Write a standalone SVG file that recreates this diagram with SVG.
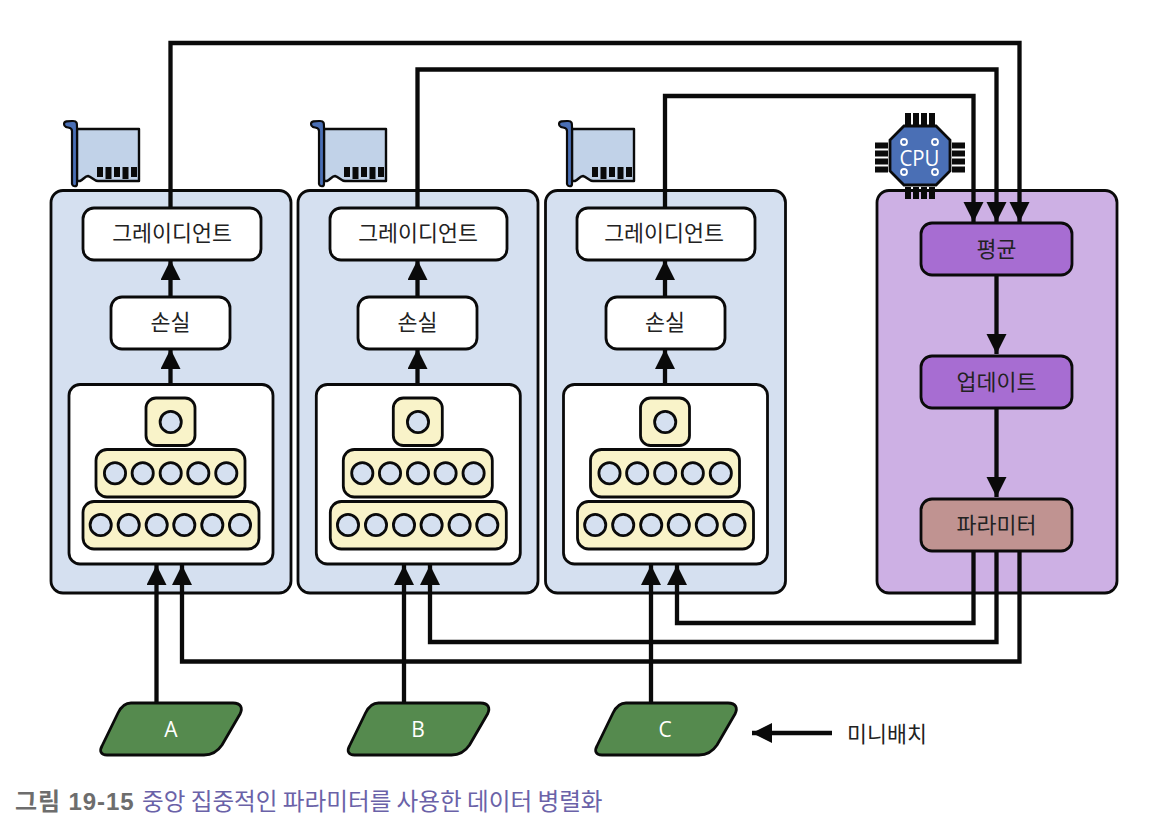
<svg xmlns="http://www.w3.org/2000/svg" width="1160" height="840" viewBox="0 0 1160 840">
<style>
text{font-family:"Noto Sans CJK KR","Noto Sans",sans-serif;text-anchor:middle;fill:#222}
.lbl{font-size:21.700px}
.on{fill:#fff;font-family:"Open Sans",sans-serif;font-weight:500}
.panel{fill:#d5e0f0;stroke:#0a0a0a;stroke-width:2.800}
.box{fill:#fff;stroke:#0a0a0a;stroke-width:2.800}
.layer{fill:#f9f3c9;stroke:#0a0a0a;stroke-width:2.800}
.n{fill:#d5e0f0;stroke:#0a0a0a;stroke-width:2.800}
.pur{fill:#a76dd2;stroke:#0a0a0a;stroke-width:2.800}
.data{fill:#558a4e;stroke:#0a0a0a;stroke-width:2.800;stroke-linejoin:round}
.wire{fill:none;stroke:#0a0a0a;stroke-width:4.300;stroke-linejoin:miter}
</style>
<defs>
<marker id="arr" markerUnits="userSpaceOnUse" markerWidth="22" markerHeight="22" refX="20" refY="10" orient="auto"><path d="M0 0L20 10L0 20Z" fill="#0a0a0a"/></marker>
<path id="para" class="data" d="M131 703H233C241 703 243 708 240 714L222 745C218 751 213 755 204 755H107C101 755 99 751 102 746L118 713C121 707 125 703 131 703Z"/>
<g id="gpu">
<path d="M77 129H139V181H98C94 181 92 177 88 176C85 176 83 180 80 181H77Z" fill="#c1d2e8" stroke="#0a0a0a" stroke-width="2.400" stroke-linejoin="round"/>
<path d="M64 124C64 121 68 121 72 121H73C77 121 77 123 77 127V184C77 187 73 187 72 184V131C72 127 68 128 66 127C64 126 64 125 64 124Z" fill="#4a6fb5" stroke="#0a0a0a" stroke-width="2.200"/>
<g fill="#0a0a0a"><rect x="97" y="167" width="6" height="10"/><rect x="105.500" y="167" width="6" height="12"/><rect x="114" y="167" width="6" height="10"/><rect x="122.500" y="167" width="6" height="12"/><rect x="131" y="167" width="6" height="10"/></g>
</g>
<g id="net">
<rect class="box" x="69" y="384.500" width="204" height="179.500" rx="11"/>
<rect class="layer" x="146" y="398" width="49" height="47.500" rx="10"/>
<rect class="layer" x="96" y="449.500" width="149" height="47.500" rx="11"/>
<rect class="layer" x="83" y="501.500" width="176" height="47.500" rx="11"/>
<circle class="n" cx="170.700" cy="422" r="10.600"/>
<circle class="n" cx="115" cy="473.300" r="10.600"/><circle class="n" cx="142.700" cy="473.300" r="10.600"/><circle class="n" cx="170.700" cy="473.300" r="10.600"/><circle class="n" cx="198.300" cy="473.300" r="10.600"/><circle class="n" cx="226.300" cy="473.300" r="10.600"/>
<circle class="n" cx="100.700" cy="525" r="10.600"/><circle class="n" cx="128.700" cy="525" r="10.600"/><circle class="n" cx="156.700" cy="525" r="10.600"/><circle class="n" cx="184.300" cy="525" r="10.600"/><circle class="n" cx="212.300" cy="525" r="10.600"/><circle class="n" cx="240" cy="525" r="10.600"/>
</g>
</defs>
<g id="panels">
<rect id="panel-a" class="panel" x="51" y="190.500" width="240" height="402.500" rx="12"/>
<rect id="panel-b" class="panel" x="298" y="190.500" width="240" height="402.500" rx="12"/>
<rect id="panel-c" class="panel" x="545.500" y="190.500" width="240" height="402.500" rx="12"/>
<rect id="panel-cpu" x="877" y="190.500" width="240" height="402.500" rx="12" fill="#cdb0e4" stroke="#0a0a0a" stroke-width="2.800"/>
</g>
<g id="gpu-a"><use href="#gpu"/></g>
<g id="gpu-b"><use href="#gpu" x="247"/></g>
<g id="gpu-c"><use href="#gpu" x="495"/></g>
<g id="cpu">
<g fill="#0a0a0a">
<rect x="905" y="113" width="6" height="12"/><rect x="913" y="113" width="6" height="12"/><rect x="921" y="113" width="6" height="12"/><rect x="929" y="113" width="6" height="12"/>
<rect x="905" y="187" width="6" height="12"/><rect x="913" y="187" width="6" height="12"/><rect x="921" y="187" width="6" height="12"/><rect x="929" y="187" width="6" height="12"/>
<rect x="875" y="142.500" width="13" height="6"/><rect x="875" y="150.500" width="13" height="6"/><rect x="875" y="158.500" width="13" height="6"/><rect x="875" y="166.500" width="13" height="6"/>
<rect x="952" y="142.500" width="13" height="6"/><rect x="952" y="150.500" width="13" height="6"/><rect x="952" y="158.500" width="13" height="6"/><rect x="952" y="166.500" width="13" height="6"/>
</g>
<path d="M904 126H936L950 140V171L936 185H904L890 171V140Z" fill="#4a6fb5" stroke="#0a0a0a" stroke-width="2.800"/>
<g fill="none" stroke="#fff" stroke-width="1.800"><circle cx="904" cy="142" r="3"/><circle cx="935" cy="142" r="3"/><circle cx="904" cy="172" r="3"/><circle cx="935" cy="172" r="3"/></g>
<text x="919.500" y="166" font-size="22" textLength="40" lengthAdjust="spacingAndGlyphs" style="fill:#fff;font-family:'Open Sans',sans-serif">CPU</text>
</g>
<g id="connectors" class="wire">
<path class="wire" d="M170.500 208V43H1019.500V222" marker-end="url(#arr)"/>
<path class="wire" d="M417.500 208V69.500H996.500V222" marker-end="url(#arr)"/>
<path class="wire" d="M665 208V96H973.500V222" marker-end="url(#arr)"/>
<path class="wire" d="M170.500 297V260" marker-end="url(#arr)"/>
<path class="wire" d="M417.500 297V260" marker-end="url(#arr)"/>
<path class="wire" d="M665 297V260" marker-end="url(#arr)"/>
<path class="wire" d="M170.500 385V349" marker-end="url(#arr)"/>
<path class="wire" d="M417.500 385V349" marker-end="url(#arr)"/>
<path class="wire" d="M665 385V349" marker-end="url(#arr)"/>
<path class="wire" d="M156.500 703V565" marker-end="url(#arr)"/>
<path class="wire" d="M404 703V565" marker-end="url(#arr)"/>
<path class="wire" d="M651 703V565" marker-end="url(#arr)"/>
<path class="wire" d="M973.500 551V623H677V565" marker-end="url(#arr)"/>
<path class="wire" d="M996.500 551V642H430V565" marker-end="url(#arr)"/>
<path class="wire" d="M1019.500 551V661.500H182V565" marker-end="url(#arr)"/>
<path class="wire" d="M996.500 275V354" marker-end="url(#arr)"/>
<path class="wire" d="M996.500 408V497" marker-end="url(#arr)"/>
<path class="wire" d="M832 733H752" marker-end="url(#arr)"/>
</g>
<g id="grad-a"><rect class="box" x="83" y="208" width="178" height="52" rx="11"/><text class="lbl" x="172" y="241">그레이디언트</text></g>
<g id="grad-b"><rect class="box" x="330" y="208" width="177" height="52" rx="11"/><text class="lbl" x="418" y="241">그레이디언트</text></g>
<g id="grad-c"><rect class="box" x="577" y="208" width="178" height="52" rx="11"/><text class="lbl" x="664" y="241">그레이디언트</text></g>
<g id="loss-a"><rect class="box" x="111" y="297" width="119" height="52" rx="11"/><text class="lbl" x="170.500" y="330">손실</text></g>
<g id="loss-b"><rect class="box" x="358" y="297" width="119" height="52" rx="11"/><text class="lbl" x="417.500" y="330">손실</text></g>
<g id="loss-c"><rect class="box" x="606" y="297" width="119" height="52" rx="11"/><text class="lbl" x="665" y="330">손실</text></g>
<g id="net-a"><use href="#net"/></g>
<g id="net-b"><use href="#net" x="247.300"/></g>
<g id="net-c"><use href="#net" x="494.500"/></g>
<g id="avg"><rect class="pur" x="921" y="223" width="151" height="52" rx="11"/><text class="lbl" x="996.500" y="257">평균</text></g>
<g id="update"><rect class="pur" x="921" y="356" width="151" height="52" rx="11"/><text class="lbl" x="996.500" y="390">업데이트</text></g>
<g id="params"><rect x="921" y="499" width="151" height="52" rx="11" fill="#c09391" stroke="#0a0a0a" stroke-width="2.800"/><text class="lbl" x="996.500" y="533">파라미터</text></g>
<g id="data-a"><use href="#para"/><text class="on" x="171" y="737" font-size="21">A</text></g>
<g id="data-b"><use href="#para" x="247.500"/><text class="on" x="418" y="737" font-size="21">B</text></g>
<g id="data-c"><use href="#para" x="495"/><text class="on" x="665" y="737" font-size="21">C</text></g>
<text class="lbl" x="887" y="742">미니배치</text>
<text x="15" y="810" font-size="24" letter-spacing="0.900" style="text-anchor:start;fill:#6d6d6d;font-weight:700;font-family:'Liberation Sans','Noto Sans CJK KR',sans-serif">그림 19-15</text>
<text x="142" y="810" font-size="23.600" style="text-anchor:start;fill:#6a62a8">중앙 집중적인 파라미터를 사용한 데이터 병렬화</text>
</svg>
